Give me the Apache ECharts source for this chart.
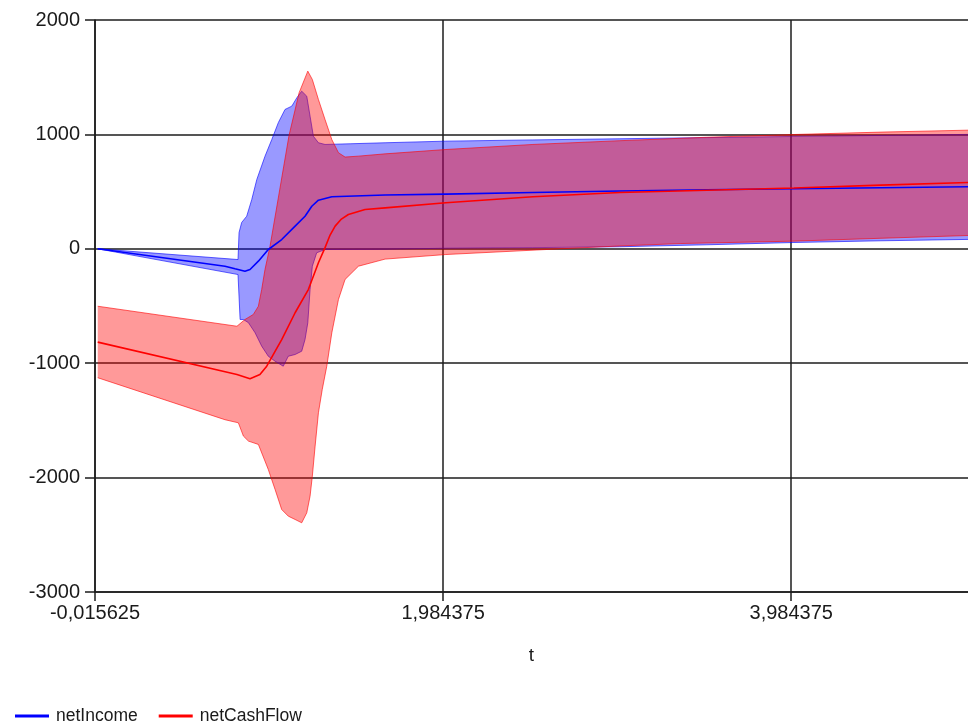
<!DOCTYPE html>
<html>
<head>
<meta charset="utf-8">
<script src="https://cdn.jsdelivr.net/npm/echarts@6/dist/echarts.min.js"></script>
<style>
html,body{margin:0;padding:0;background:#fff;}
#chart{width:968px;height:728px;}
</style>
</head>
<body>
<div id="chart"></div>
<script>
// x-axis tick values and their printed labels
const xTicks = [-0.015625, 1.984375, 3.984375];
const xTickLabels = ['-0,015625', '1,984375', '3,984375'];
const yTicks = [-3000, -2000, -1000, 0, 1000, 2000];

const seriesNames = ['netIncome', 'netCashFlow'];

// netIncome: mean line and band edges, [t, value]
const incomeMean = [[0,0],[0.731,-152],[0.789,-175],[0.846,-196],[0.875,-181],[0.923,-108],[0.980,-6],[1.057,81],[1.134,198],[1.191,285],[1.230,372],[1.268,425],[1.345,455],[1.651,470],[2.0,478],[2.5,492],[3.0,505],[3.5,516],[4.0,525],[4.5,534],[5.0,542]];
const incomeUpper = [[0,0],[0.806,-94],[0.812,142],[0.827,230],[0.856,285],[0.885,431],[0.914,606],[0.961,809],[1.000,955],[1.038,1104],[1.076,1218],[1.115,1247],[1.144,1320],[1.172,1378],[1.201,1334],[1.220,1159],[1.239,984],[1.268,927],[1.306,912],[1.45,918],[1.651,927],[2.0,941],[2.5,952],[3.0,962],[3.5,972],[4.0,982],[4.5,991],[5.0,1000]];
const incomeLower = [[0,0],[0.806,-225],[0.818,-618],[0.837,-618],[0.866,-646],[0.904,-734],[0.942,-851],[0.980,-939],[1.019,-983],[1.066,-1026],[1.095,-939],[1.134,-924],[1.172,-895],[1.191,-793],[1.207,-647],[1.220,-356],[1.233,-152],[1.258,-35],[1.306,-6],[1.651,-4],[2.0,5],[2.5,10],[3.0,18],[3.5,35],[4.0,55],[4.5,70],[5.0,82]];

// netCashFlow: mean line and band edges, [t, value]
const cashMean = [[0,-816],[0.8,-1099],[0.875,-1136],[0.932,-1099],[0.971,-1026],[1.057,-793],[1.134,-559],[1.210,-356],[1.268,-122],[1.306,10],[1.335,120],[1.364,198],[1.400,260],[1.440,300],[1.536,344],[1.651,358],[2.0,402],[2.5,455],[3.0,492],[3.5,512],[4.0,532],[4.5,557],[5.0,580]];
const cashUpper = [[0,-502],[0.8,-677],[0.846,-618],[0.894,-574],[0.923,-502],[0.942,-356],[0.961,-181],[0.990,23],[1.099,990],[1.157,1364],[1.207,1553],[1.233,1480],[1.268,1305],[1.306,1130],[1.345,955],[1.383,840],[1.421,802],[1.498,810],[1.651,830],[2.0,868],[2.5,912],[3.0,945],[3.5,975],[4.0,999],[4.5,1020],[5.0,1037]];
const cashLower = [[0,-1127],[0.731,-1494],[0.808,-1521],[0.837,-1637],[0.866,-1681],[0.923,-1710],[0.980,-1929],[1.019,-2104],[1.057,-2279],[1.095,-2337],[1.134,-2366],[1.172,-2395],[1.201,-2308],[1.220,-2162],[1.233,-1987],[1.249,-1725],[1.268,-1433],[1.290,-1229],[1.316,-1026],[1.345,-734],[1.383,-443],[1.421,-268],[1.498,-152],[1.651,-90],[2.0,-50],[2.58,-6],[3.0,25],[3.35,46],[4.0,67],[4.5,92],[5.0,116]];

const FONT = 'Liberation Sans';
const chart = echarts.init(document.getElementById('chart'));

function bandSeries(name, upper, lower, fill, stroke) {
  return {
    name: name,
    type: 'custom',
    clip: true,
    silent: true,
    data: [[upper[0][0], upper[0][1]]],
    encode: { x: 0, y: 1 },
    renderItem: function (params, api) {
      const up = upper.map(p => api.coord(p));
      const lo = lower.map(p => api.coord(p));
      const poly = up.concat(lo.slice().reverse());
      return {
        type: 'group',
        children: [
          { type: 'polygon', shape: { points: poly }, style: { fill: fill, stroke: null } },
          { type: 'polyline', shape: { points: up }, style: { fill: null, stroke: stroke, lineWidth: 1 } },
          { type: 'polyline', shape: { points: lo }, style: { fill: null, stroke: stroke, lineWidth: 1 } }
        ]
      };
    }
  };
}

function xLabel(v) {
  for (let i = 0; i < xTicks.length; i++) {
    if (Math.abs(v - xTicks[i]) < 1e-4) return xTickLabels[i];
  }
  return '';
}

const gridLine = { color: '#1c1c1c', width: 1.5 };

chart.setOption({
  animation: false,
  backgroundColor: '#ffffff',
  textStyle: { fontFamily: FONT },
  grid: { left: 95, top: 20, right: -1, bottom: 136, containLabel: false },
  legend: {
    data: [
      { name: seriesNames[0], icon: 'rect', itemStyle: { color: '#0000ff' } },
      { name: seriesNames[1], icon: 'rect', itemStyle: { color: '#ff0000' } }
    ],
    left: 10,
    top: 702,
    itemWidth: 34,
    itemHeight: 3,
    itemGap: 21,
    textStyle: { fontFamily: FONT, fontSize: 17.5, color: '#1a1a1a', padding: [0, 0, 0, 2] }
  },
  xAxis: {
    type: 'value',
    min: xTicks[0],
    max: 5,
    interval: 2,
    name: 't',
    nameLocation: 'middle',
    nameGap: 54,
    nameTextStyle: { fontFamily: FONT, fontSize: 19, color: '#1a1a1a' },
    axisLine: { show: true, onZero: false, lineStyle: gridLine },
    axisTick: { show: true, length: 9, lineStyle: gridLine, customValues: xTicks },
    axisLabel: { formatter: xLabel, customValues: xTicks, margin: 11, fontFamily: FONT, fontSize: 20, color: '#1a1a1a' },
    splitLine: { show: true, lineStyle: gridLine }
  },
  yAxis: {
    type: 'value',
    min: yTicks[0],
    max: yTicks[yTicks.length - 1],
    interval: 1000,
    axisLine: { show: true, onZero: false, lineStyle: gridLine },
    axisTick: { show: true, length: 10, lineStyle: gridLine },
    axisLabel: { formatter: v => String(v), margin: 15, fontFamily: FONT, fontSize: 20, color: '#1a1a1a' },
    splitLine: { show: true, lineStyle: gridLine }
  },
  series: [
    bandSeries('netIncome band', incomeUpper, incomeLower, 'rgba(0,0,255,0.4)', 'rgba(0,0,255,0.6)'),
    bandSeries('netCashFlow band', cashUpper, cashLower, 'rgba(255,0,0,0.4)', 'rgba(255,0,0,0.6)'),
    {
      name: seriesNames[0], type: 'line', data: incomeMean, showSymbol: false, symbol: 'none',
      itemStyle: { color: '#0000ff' }, lineStyle: { color: '#0000ff', width: 1.6 }, z: 3
    },
    {
      name: seriesNames[1], type: 'line', data: cashMean, showSymbol: false, symbol: 'none',
      itemStyle: { color: '#ff0000' }, lineStyle: { color: '#ff0000', width: 1.6 }, z: 3
    }
  ]
});
</script>
</body>
</html>
